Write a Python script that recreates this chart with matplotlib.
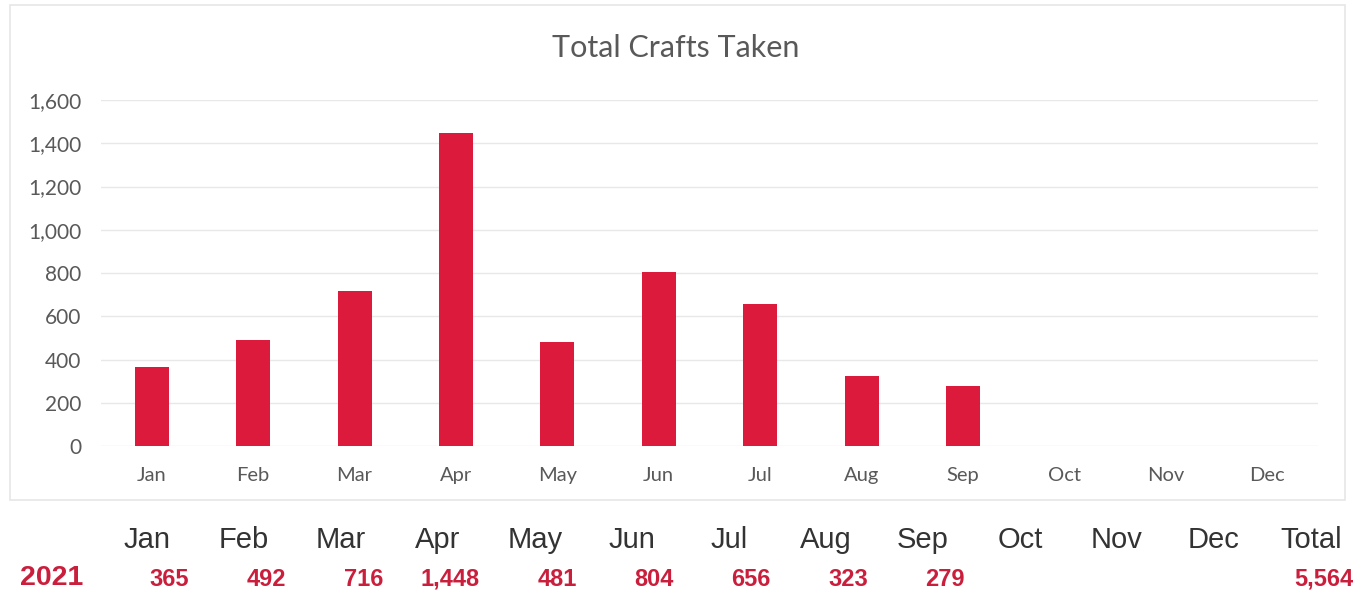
import numpy as np
import matplotlib.pyplot as plt
from matplotlib.patches import Rectangle

months = ["Jan", "Feb", "Mar", "Apr", "May", "Jun", "Jul", "Aug", "Sep", "Oct", "Nov", "Dec"]
crafts_2021 = [365, 492, 716, 1448, 481, 804, 656, 323, 279, None, None, None]
year_label = "2021"
y_ticks = [0, 200, 400, 600, 800, 1000, 1200, 1400, 1600]

bar_color = "#DC1A3C"
value_color = "#C91F3D"

fig = plt.figure(figsize=(13.7, 5.97), dpi=100)
fig.patch.set_facecolor("white")

# chart frame
fig.patches.append(Rectangle((10/1370, 1-500/597), 1335/1370, 495/597, transform=fig.transFigure,
                             fill=False, edgecolor="#e6e6e6", linewidth=1.2))

ax = fig.add_axes([101/1370, 1-446/597, 1217/1370, 346/597])
x = np.arange(len(months))
heights = [v if v is not None else 0 for v in crafts_2021]
ax.bar(x, heights, width=0.335, color=bar_color, zorder=3)
ax.set_xlim(-0.5, len(months)-0.5)
ax.set_ylim(0, 1600)
ax.set_yticks(y_ticks)
ax.set_yticklabels([f"{t:,}" for t in y_ticks], fontsize=15, color="#595959", family="Lato")
ax.set_xticks(x)
ax.set_xticklabels(months, fontsize=14.5, color="#595959", family="Lato")
ax.tick_params(length=0, axis="y", pad=14)
ax.tick_params(length=0, axis="x", pad=15)
ax.grid(axis="y", color="#e8e8e8", linewidth=1, zorder=0)
for s in ax.spines.values():
    s.set_visible(False)

fig.text(676/1370, 1-48/597, "Total Crafts Taken", ha="center", va="center",
         fontsize=22, color="#595959", family="Lato")

# summary table under the chart
col_x = [147 + 97.0*i for i in range(13)]
headers = months + ["Total"]
values = crafts_2021 + [sum(v for v in crafts_2021 if v is not None)]
for cx, h, v in zip(col_x, headers, values):
    fig.text(cx/1370, 1-540/597, h, ha="center", va="center", fontsize=21,
             color="#333333", family="Liberation Sans")
    if v is not None:
        fig.text((cx+42)/1370, 1-579/597, f"{v:,}", ha="right", va="center", fontsize=17,
                 color=value_color, fontweight="bold", family="Liberation Sans")
fig.text(52/1370, 1-578/597, year_label, ha="center", va="center", fontsize=20.5,
         color=value_color, fontweight="bold", family="Liberation Sans")

fig.savefig("out.png", dpi=100)
